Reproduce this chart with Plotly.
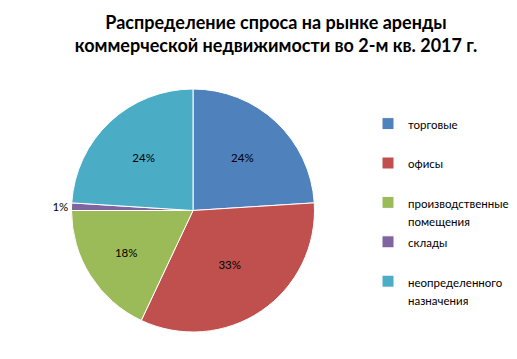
import plotly.graph_objects as go

categories = ["торговые", "офисы", "производственные<br>помещения", "склады", "неопределенного<br>назначения"]
values = [24, 33, 18, 1, 24]
colors = ["#4F81BD", "#C0504D", "#9BBB59", "#8064A2", "#4BACC6"]
title_text = "Распределение спроса на рынке аренды<br>коммерческой недвижимости во 2-м кв. 2017 г."

W, H = 517, 359

# every legend entry occupies two lines (like the reference spacing); text drawn at 11.5px
def legend_label(c):
    lines = c.split("<br>")
    if len(lines) < 2:
        lines.append(" ")
    return "<br>".join(f"<span style='font-size:11.5px'>{l}</span>" for l in lines)

legend_labels = [legend_label(c) for c in categories]
text_pos = ["outside" if v < 3 else "inside" for v in values]

fig = go.Figure(go.Pie(
    labels=legend_labels,
    values=values,
    sort=False,
    direction="clockwise",
    rotation=0,
    marker=dict(colors=colors, line=dict(color="white", width=1)),
    texttemplate="%{percent:.0%}",
    textposition=text_pos,
    insidetextorientation="horizontal",
    textfont=dict(family="Lato, sans-serif", size=11.5, color="#000000"),
    domain=dict(x=[63.5 / W, 306.5 / W], y=[1 - 324 / H, 1 - 81 / H]),
    hoverinfo="percent",
))

fig.update_layout(
    width=W, height=H,
    margin=dict(l=0, r=0, t=0, b=0, autoexpand=False),
    paper_bgcolor="white",
    plot_bgcolor="white",
    title=dict(text=title_text, x=268 / W, xanchor="center", y=1 - 21 / H, yanchor="middle",
               yref="container", xref="container",
               font=dict(family="Lato, sans-serif", size=18, color="#000000", weight="bold")),
    legend=dict(x=360 / W, xanchor="left", y=1 - 100 / H, yanchor="top",
                valign="top", font=dict(family="Lato, sans-serif", size=14, color="#000000"),
                bgcolor="rgba(0,0,0,0)"),
    showlegend=True,
)

fig.write_html("out.html")
